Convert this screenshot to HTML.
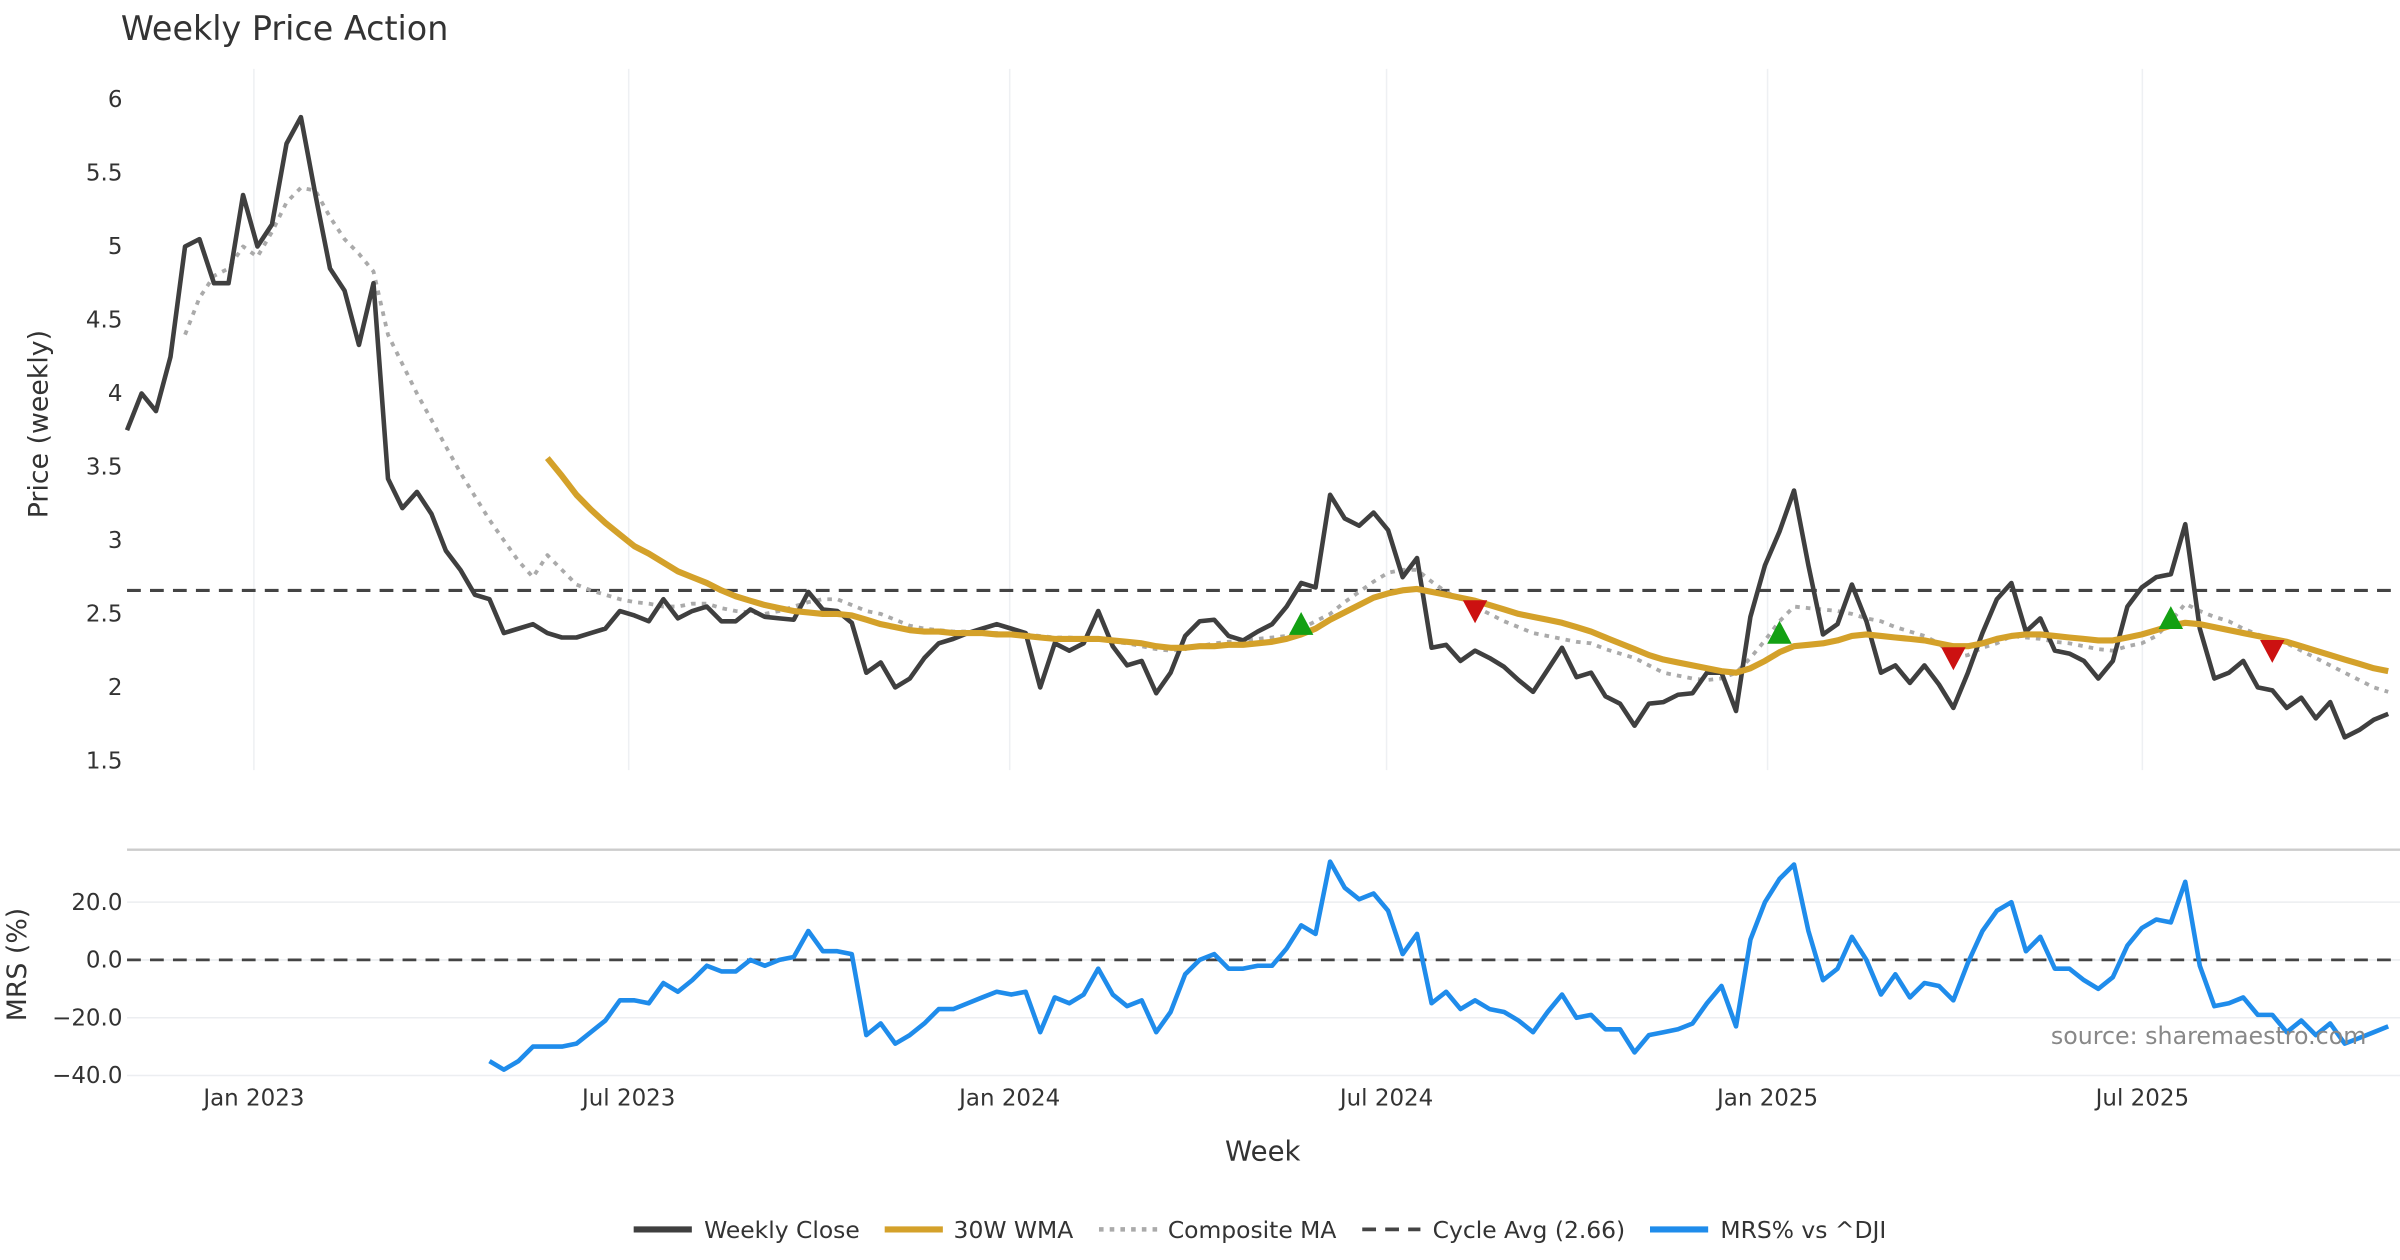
<!DOCTYPE html>
<html><head><meta charset="utf-8"><style>
html,body{margin:0;padding:0;background:#fff;}
svg{display:block;font-family:"DejaVu Sans","Liberation Sans",sans-serif;}
</style></head><body>
<svg id="chart" width="2400" height="1260" viewBox="0 0 1568 823" preserveAspectRatio="none" xmlns="http://www.w3.org/2000/svg">
<text x="79" y="26" font-size="21.8" fill="#333">Weekly Price Action</text>
<g id="grid"></g>
<g id="series"></g>
<g id="axes"></g>
<text transform="translate(31,277) rotate(-90)" text-anchor="middle" font-size="17.5" fill="#333">Price (weekly)</text>
<text transform="translate(17,630) rotate(-90)" text-anchor="middle" font-size="17.5" fill="#333">MRS (%)</text>
<text x="825" y="758" text-anchor="middle" font-size="18" fill="#333">Week</text>
<text x="1546" y="682" text-anchor="end" font-size="15.5" fill="#888">source: sharemaestro.com</text>
<g id="legend"></g>
</svg>
<script>
const closes=[3.75,4.0,3.88,4.25,5.0,5.05,4.75,4.75,5.35,5.0,5.15,5.7,5.88,5.35,4.85,4.7,4.33,4.75,3.42,3.22,3.33,3.18,2.93,2.8,2.63,2.6,2.37,2.4,2.43,2.37,2.34,2.34,2.37,2.4,2.52,2.49,2.45,2.6,2.47,2.52,2.55,2.45,2.45,2.53,2.48,2.47,2.46,2.65,2.53,2.52,2.44,2.1,2.17,2.0,2.06,2.2,2.3,2.33,2.37,2.4,2.43,2.4,2.37,2.0,2.3,2.25,2.3,2.52,2.28,2.15,2.18,1.96,2.1,2.35,2.45,2.46,2.35,2.32,2.38,2.43,2.55,2.71,2.68,3.31,3.15,3.1,3.19,3.07,2.75,2.88,2.27,2.29,2.18,2.25,2.2,2.14,2.05,1.97,2.12,2.27,2.07,2.1,1.94,1.89,1.74,1.89,1.9,1.95,1.96,2.1,2.1,1.84,2.48,2.83,3.06,3.34,2.83,2.36,2.43,2.7,2.45,2.1,2.15,2.03,2.15,2.02,1.86,2.1,2.37,2.6,2.71,2.38,2.47,2.25,2.23,2.18,2.06,2.18,2.55,2.68,2.75,2.77,3.11,2.4,2.06,2.1,2.18,2.0,1.98,1.86,1.93,1.79,1.9,1.66,1.71,1.78,1.82];
const wmaStart=29;
const wma=[3.56,3.44,3.31,3.21,3.12,3.04,2.96,2.91,2.85,2.79,2.75,2.71,2.66,2.62,2.59,2.56,2.54,2.52,2.51,2.5,2.5,2.49,2.46,2.43,2.41,2.39,2.38,2.38,2.37,2.37,2.37,2.36,2.36,2.35,2.34,2.33,2.33,2.33,2.33,2.32,2.31,2.3,2.28,2.27,2.27,2.28,2.28,2.29,2.29,2.3,2.31,2.33,2.36,2.4,2.46,2.51,2.56,2.61,2.64,2.66,2.67,2.65,2.63,2.61,2.59,2.56,2.53,2.5,2.48,2.46,2.44,2.41,2.38,2.34,2.3,2.26,2.22,2.19,2.17,2.15,2.13,2.11,2.1,2.13,2.18,2.24,2.28,2.29,2.3,2.32,2.35,2.36,2.35,2.34,2.33,2.32,2.3,2.28,2.28,2.3,2.33,2.35,2.36,2.36,2.35,2.34,2.33,2.32,2.32,2.34,2.36,2.39,2.42,2.44,2.43,2.41,2.39,2.37,2.35,2.33,2.31,2.28,2.25,2.22,2.19,2.16,2.13,2.11];
const compStart=4;
const composite=[4.4,4.65,4.8,4.85,5.0,4.93,5.1,5.3,5.4,5.38,5.2,5.05,4.95,4.83,4.4,4.2,4.0,3.82,3.64,3.46,3.3,3.14,3.0,2.86,2.75,2.9,2.8,2.7,2.66,2.63,2.6,2.58,2.57,2.55,2.55,2.57,2.57,2.54,2.52,2.51,2.5,2.52,2.55,2.58,2.6,2.6,2.56,2.52,2.5,2.46,2.42,2.4,2.39,2.38,2.38,2.37,2.37,2.36,2.36,2.35,2.34,2.34,2.33,2.33,2.31,2.3,2.28,2.26,2.25,2.26,2.28,2.3,2.31,2.32,2.33,2.34,2.35,2.4,2.45,2.5,2.58,2.65,2.72,2.78,2.8,2.8,2.72,2.65,2.6,2.55,2.5,2.45,2.41,2.37,2.35,2.33,2.31,2.3,2.26,2.23,2.2,2.15,2.1,2.08,2.06,2.05,2.06,2.1,2.2,2.32,2.45,2.55,2.54,2.53,2.52,2.5,2.47,2.45,2.41,2.38,2.35,2.3,2.2,2.22,2.27,2.3,2.35,2.34,2.33,2.31,2.3,2.28,2.26,2.25,2.28,2.3,2.35,2.45,2.57,2.52,2.48,2.45,2.4,2.36,2.33,2.3,2.25,2.2,2.15,2.1,2.05,2.0,1.97];
const mrsStart=25;
const mrs=[-35,-38,-35,-30,-30,-30,-29,-25,-21,-14,-14,-15,-8,-11,-7,-2,-4,-4,0,-2,0,1,10,3,3,2,-26,-22,-29,-26,-22,-17,-17,-15,-13,-11,-12,-11,-25,-13,-15,-12,-3,-12,-16,-14,-25,-18,-5,0,2,-3,-3,-2,-2,4,12,9,34,25,21,23,17,2,9,-15,-11,-17,-14,-17,-18,-21,-25,-18,-12,-20,-19,-24,-24,-32,-26,-25,-24,-22,-15,-9,-23,7,20,28,33,10,-7,-3,8,0,-12,-5,-13,-8,-9,-14,-1,10,17,20,3,8,-3,-3,-7,-10,-6,5,11,14,13,27,-2,-16,-15,-13,-19,-19,-25,-21,-26,-22,-29,-27,-25,-23];
const cycleAvg=2.66;
const buyIdx=[81,114,141];
const buyVal=[2.43,2.37,2.47];
const sellIdx=[93,126,148];
const sellVal=[2.52,2.2,2.25];
const priceTicks=[1.5,2,2.5,3,3.5,4,4.5,5,5.5,6];
const priceTickLabels=["1.5","2","2.5","3","3.5","4","4.5","5","5.5","6"];
const mrsTicks=[-40,-20,0,20];
const mrsTickLabels=["\u221240.0","\u221220.0","0.0","20.0"];
const dateTicks=["2023-01-01","2023-07-01","2024-01-01","2024-07-01","2025-01-01","2025-07-01"];
const dateTickLabels=["Jan 2023","Jul 2023","Jan 2024","Jul 2024","Jan 2025","Jul 2025"];

const NS="http://www.w3.org/2000/svg";
const X0=83, WK=9.47;
const startMs=Date.UTC(2022,9,31);
function xIdx(i){return X0+i*WK;}
function xDate(s){const d=new Date(s+"T00:00:00Z");return X0+(d-startMs)/86400000/7*WK;}
function yP(v){return 65+(6-v)*96;}
function yM(v){return 627-v*1.8875;}
function mk(tag,attrs,parent){const e=document.createElementNS(NS,tag);for(const k in attrs)e.setAttribute(k,attrs[k]);parent.appendChild(e);return e;}
const grid=document.getElementById('grid'),ser=document.getElementById('series'),axes=document.getElementById('axes'),leg=document.getElementById('legend');

dateTicks.forEach((d,k)=>{
  const x=xDate(d)-1;
  const g=mk('line',{x1:x,x2:x,y1:45,y2:503,stroke:'#eef0f3','stroke-width':1},grid);
  
  
  const t=mk('text',{x:x,y:722,'text-anchor':'middle','font-size':15,fill:'#333'},axes);
  t.textContent=dateTickLabels[k];
  
  
});
priceTicks.forEach((v,k)=>{
  const t=mk('text',{x:80,y:yP(v)+5,'text-anchor':'end','font-size':15,fill:'#333'},axes);
  t.textContent=priceTickLabels[k];
  
  
});
const sep=mk('line',{x1:83,x2:1568,y1:555,y2:555,stroke:'#ccc','stroke-width':1.5},grid);


mrsTicks.forEach((v,k)=>{
  const g=mk('line',{x1:83,x2:1568,y1:yM(v),y2:yM(v),stroke:'#eceef1','stroke-width':1},grid);
  
  
  const t=mk('text',{x:80,y:yM(v)+5,'text-anchor':'end','font-size':15,fill:'#333'},axes);
  t.textContent=mrsTickLabels[k];
  
  
});

function poly(vals,off,yf,attrs,name){
  const pts=vals.map((v,i)=>xIdx(i+off).toFixed(1)+','+yf(v).toFixed(1)).join(' ');
  const p=mk('polyline',Object.assign({points:pts,fill:'none','stroke-linejoin':'round'},attrs),ser);
  
  
  return p;
}
const ca=mk('line',{x1:83,x2:1568,y1:yP(cycleAvg),y2:yP(cycleAvg),stroke:'#444','stroke-width':2,'stroke-dasharray':'9 6'},ser);


poly(composite,compStart,yP,{stroke:'#aaa','stroke-width':2.5,'stroke-dasharray':'3 4'},'composite-ma-line');
poly(closes,0,yP,{stroke:'#3f3f3f','stroke-width':3},'weekly-close-line');
poly(wma,wmaStart,yP,{stroke:'#d4a12a','stroke-width':4},'wma-30w-line');
buyIdx.forEach((i,k)=>{
  const x=xIdx(i),y=yP(buyVal[k]);
  const t=mk('polygon',{points:`${x-8},${y+7} ${x+8},${y+7} ${x},${y-8}`,fill:'#13a013'},ser);
  
  
});
sellIdx.forEach((i,k)=>{
  const x=xIdx(i),y=yP(sellVal[k]);
  const t=mk('polygon',{points:`${x-8},${y-7} ${x+8},${y-7} ${x},${y+8}`,fill:'#cc1111'},ser);
  
  
});
const zl=mk('line',{x1:83,x2:1568,y1:yM(0),y2:yM(0),stroke:'#444','stroke-width':1.8,'stroke-dasharray':'9 6'},ser);


poly(mrs,mrsStart,yM,{stroke:'#1f8ceb','stroke-width':3},'mrs-line');

const legendItems=[
 {x:414,tx:460,label:'Weekly Close',stroke:'#3f3f3f',dash:'',w:4},
 {x:578,tx:623,label:'30W WMA',stroke:'#d4a12a',dash:'',w:4},
 {x:718,tx:763,label:'Composite MA',stroke:'#aaa',dash:'3 4',w:3},
 {x:890,tx:936,label:'Cycle Avg (2.66)',stroke:'#444',dash:'9 6',w:2.5},
 {x:1078,tx:1124,label:'MRS% vs ^DJI',stroke:'#1f8ceb',dash:'',w:4}
];
legendItems.forEach(it=>{
  const g=mk('g',{},leg);
  
  
  mk('line',{x1:it.x,x2:it.x+38,y1:803,y2:803,stroke:it.stroke,'stroke-width':it.w,'stroke-dasharray':it.dash},g);
  const t=mk('text',{x:it.tx,y:808.5,'font-size':15.3,fill:'#333'},g);
  t.textContent=it.label;
});
</script>
</body></html>
